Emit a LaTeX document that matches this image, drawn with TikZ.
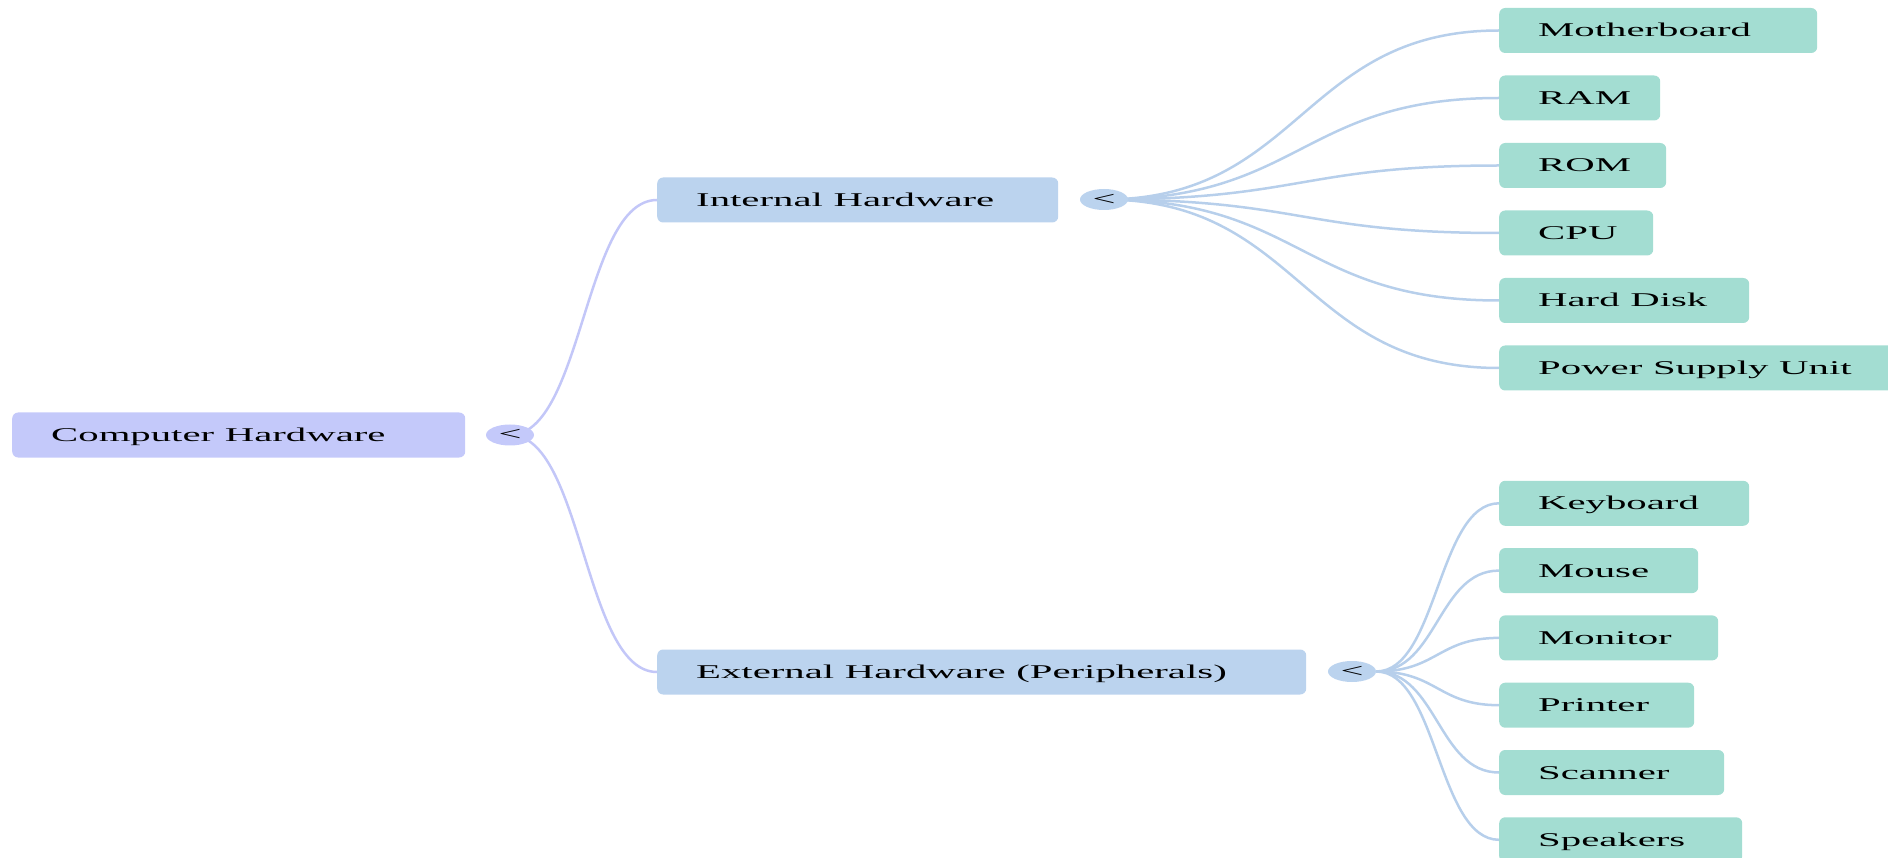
\documentclass[tikz,border=0pt]{standalone}
\usepackage{fontspec}
\setmainfont{Liberation Serif}[FakeStretch=2.09]
\usetikzlibrary{shapes.geometric,backgrounds}
\definecolor{rootcol}{HTML}{C4C9FA}
\definecolor{midcol}{HTML}{BBD3EE}
\definecolor{leafcol}{HTML}{A3DDD2}
\definecolor{linkA}{HTML}{C3C7F8}
\definecolor{linkB}{HTML}{B7CFEB}
\newcommand\boxfont{\fontsize{19.5}{23}\selectfont}
\newcommand\wsp{~\hspace{4.2pt}}
\tikzset{%
  box/.style={rounded corners=6pt, anchor=west, inner xsep=39pt, inner ysep=0pt,
    minimum height=45pt, text height=13pt, text depth=0pt, align=left,
    font=\boxfont},
  rootbox/.style={box, fill=rootcol},
  midbox/.style={box, fill=midcol},
  leafbox/.style={box, fill=leafcol},
  dot/.style={ellipse, inner sep=0pt, minimum width=48pt, minimum height=21pt,
    font=\boxfont},
  link/.style={line width=2.5pt}
}
\begin{document}
\begin{tikzpicture}[x=1pt,y=-1pt]
\useasboundingbox (0,0) rectangle (1888,858);
\node[rootbox, text width=375pt] (root) at (12,435) {Computer\wsp Hardware};
\node[dot, fill=rootcol] (rdot) at (510,435) {<};
\node[midbox, text width=323pt] (int) at (657,200) {Internal\wsp Hardware};
\node[dot, fill=midcol] (idot) at (1104,199.5) {<};
\node[midbox, text width=571pt] (ext) at (657,672) {External\wsp Hardware\wsp (Peripherals)};
\node[dot, fill=midcol] (edot) at (1352,671.5) {<};
% internal parts
\foreach \name/\w [count=\i] in {Motherboard/240, RAM/83, ROM/89, CPU/76,
    Hard\wsp Disk/172, Power\wsp Supply\wsp Unit/322}
  \node[leafbox, text width=\w pt] (in\i) at (1499,30.5+67.5*\i-67.5) {\name};
% peripherals
\foreach \name/\w [count=\i] in {Keyboard/172, Mouse/121, Monitor/141, Printer/117,
    Scanner/147, Speakers/165}
  \node[leafbox, text width=\w pt] (ex\i) at (1499,503.3+67.3*\i-67.3) {\name};
\begin{scope}[on background layer]
\draw[link, linkA] (rdot.center) .. controls +(73,0) and +(-73,0) .. (int.west);
\draw[link, linkA] (rdot.center) .. controls +(73,0) and +(-73,0) .. (ext.west);
\foreach \i in {1,...,6}
  \draw[link, linkB] (idot.center) .. controls +(197,0) and +(-197,0) .. (in\i.west);
\foreach \i in {1,...,6}
  \draw[link, linkB] (edot.east) .. controls +(61,0) and +(-61,0) .. (ex\i.west);
\end{scope}
\end{tikzpicture}
\end{document}
